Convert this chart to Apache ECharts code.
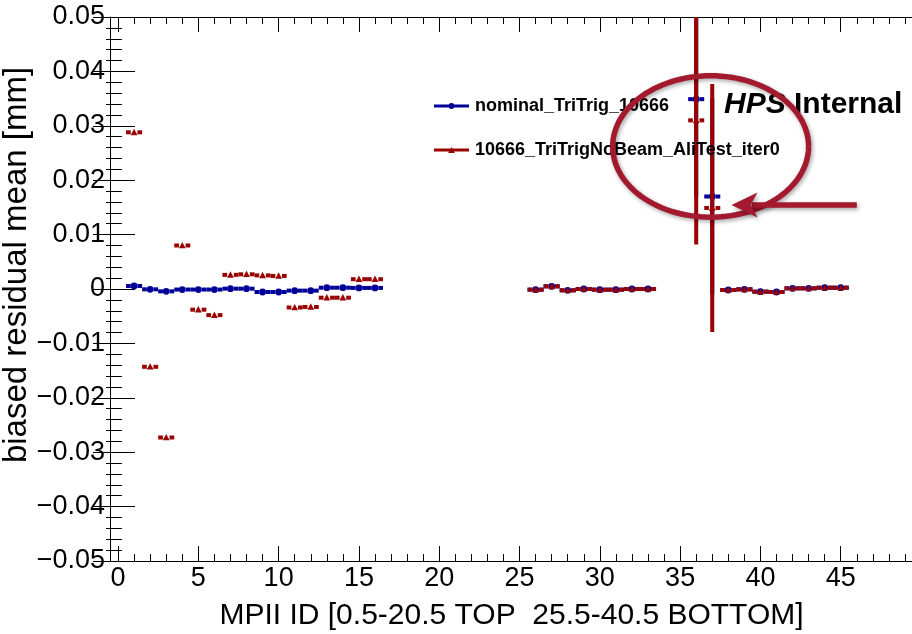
<!DOCTYPE html>
<html><head><meta charset="utf-8">
<script src="https://cdn.jsdelivr.net/npm/echarts@6/dist/echarts.min.js"></script>
<style>html,body{margin:0;padding:0;background:#fff}#c{width:912px;height:634px}</style>
</head><body><div id="c"></div>
<script>
// ---------------- data ----------------
const seriesNames = ['nominal_TriTrig_10666', '10666_TriTrigNoBeam_AliTest_iter0'];
const mpiiIds = [1,2,3,4,5,6,7,8,9,10,11,12,13,14,15,16,
                 26,27,28,29,30,31,32,33,
                 36,37,
                 38,39,40,41,42,43,44,45];
const nominalMean = [0.00055,-0.00006,-0.00043,-0.0001,-0.0001,-0.0001,0.00006,0.00006,-0.00055,-0.00055,-0.0003,-0.0003,0.00024,0.00024,0.0002,0.0002,
                     -0.00012,0.00049,-0.00024,0,-0.00012,-0.00012,0,0,
                     0.0349,0.0170,
                     -0.00018,-0.00006,-0.00049,-0.00055,0.00012,0.00012,0.00024,0.00024];
const nominalErr = [0.0003,0.0003,0.0003,0.0003,0.0003,0.0003,0.0003,0.0003,0.0003,0.0003,0.0003,0.0003,0.0003,0.0003,0.0003,0.0003,
                    0.0003,0.0003,0.0003,0.0003,0.0003,0.0003,0.0003,0.0003,
                    0.018,0.018,
                    0.0003,0.0003,0.0003,0.0003,0.0003,0.0003,0.0003,0.0003];
const noBeamMean = [0.0288,-0.0143,-0.0273,0.0080,-0.0038,-0.0048,0.0026,0.0027,0.0025,0.0024,-0.0034,-0.0033,-0.0016,-0.0016,0.0018,0.0018,
                    -0.00012,0.00049,-0.00024,0,-0.00012,-0.00012,0,0,
                    0.0310,0.0149,
                    -0.00018,-0.00006,-0.00049,-0.00055,0.00012,0.00012,0.00024,0.00024];
const noBeamErr = [0.0003,0.0003,0.0003,0.0003,0.0003,0.0003,0.0003,0.0003,0.0003,0.0003,0.0003,0.0003,0.0003,0.0003,0.0003,0.0003,
                   0.0003,0.0003,0.0003,0.0003,0.0003,0.0003,0.0003,0.0003,
                   0.0228,0.0228,
                   0.0003,0.0003,0.0003,0.0003,0.0003,0.0003,0.0003,0.0003];
const xHalfWidth = 0.5;
const xMajorTicks = [0,5,10,15,20,25,30,35,40,45];
const xMinorTicks = Array.from({length:50},(_,i)=>i);
const xTitle = 'MPII ID [0.5-20.5 TOP  25.5-40.5 BOTTOM]';
const yTitle = 'biased residual mean [mm]';

// ---------------- chart ----------------
const FONT = '"Liberation Sans", Helvetica, Arial, sans-serif';
const BLUE = '#000099', RED = '#990000', ANNO = '#a3192d';
const chart = echarts.init(document.getElementById('c'), null, {renderer:'canvas'});

function errRender(color, shape) {
  return function (params, api) {
    const x = api.value(0), y = api.value(1), ey = api.value(2);
    const c = api.coord([x, y]);
    const l = api.coord([x - xHalfWidth, y]);
    const r = api.coord([x + xHalfWidth, y]);
    const t = api.coord([x, y + ey]);
    const b = api.coord([x, y - ey]);
    const g = 3.3;
    const st = {stroke: color, lineWidth: 4, lineCap: 'butt'};
    const ch = [
      {type:'line', shape:{x1:l[0], y1:c[1], x2:c[0]-g, y2:c[1]}, style:st},
      {type:'line', shape:{x1:c[0]+g, y1:c[1], x2:r[0], y2:c[1]}, style:st}
    ];
    if (c[1] - t[1] > g) {
      ch.push({type:'line', shape:{x1:c[0], y1:t[1], x2:c[0], y2:b[1]}, style:st});
    }
    if (shape === 'circle') {
      ch.push({type:'circle', shape:{cx:c[0], cy:c[1], r:3.4}, style:{fill:color}});
    } else {
      ch.push({type:'polygon', shape:{points:[[c[0],c[1]-3.6],[c[0]+3.4,c[1]+2.8],[c[0]-3.4,c[1]+2.8]]}, style:{fill:color}});
    }
    return {type:'group', children: ch};
  };
}

const blueData = mpiiIds.map((x,i)=>[x, nominalMean[i], nominalErr[i]]);
const redData = mpiiIds.map((x,i)=>[x, noBeamMean[i], noBeamErr[i]]);

const lbl = {fontFamily: FONT, fontSize: 27, color: '#000'};
const axLine = {show:true, onZero:false, lineStyle:{color:'#000', width:1}};
function yFmt(v){ if (Math.abs(v) < 1e-9) return '0'; return (v<0?'\u2212':'') + Math.abs(v).toFixed(2); }

const option = {
  animation: false,
  backgroundColor: '#fff',
  grid: {left:110, top:17, width:803, height:544, containLabel:false, outerBoundsMode:'none'},
  legend: {
    orient:'vertical', left:429, top:92, itemWidth:35, itemHeight:8, itemGap:26,
    textStyle:{fontFamily:FONT, fontSize:18, fontWeight:'bold', color:'#000', padding:[0,0,0,1]},
    data:[
      {name:seriesNames[0], icon:'path://M0,2.5L35,2.5L35,5.5L0,5.5Z M14.5,4 a3,3 0 1,1 6,0 a3,3 0 1,1 -6,0Z', itemStyle:{color:BLUE}},
      {name:seriesNames[1], icon:'path://M0,2.5L35,2.5L35,5.5L0,5.5Z M17.5,1L20.8,7L14.2,7Z', itemStyle:{color:RED}}
    ]
  },
  xAxis: [
    {type:'value', min:-0.5, max:49.5, position:'bottom', axisLine:axLine,
     axisTick:{show:true, inside:true, length:15, customValues:xMajorTicks, lineStyle:{color:'#000'}},
     axisLabel:{...lbl, margin:4, customValues:xMajorTicks},
     splitLine:{show:false},
     name:xTitle, nameLocation:'middle', nameGap:40,
     nameTextStyle:{fontFamily:FONT, fontSize:30, color:'#000'}},
    {type:'value', min:-0.5, max:49.5, position:'bottom', axisLine:axLine,
     axisTick:{show:true, inside:true, length:7, customValues:xMinorTicks, lineStyle:{color:'#000'}},
     axisLabel:{show:false}, splitLine:{show:false}},
    {type:'value', min:-0.5, max:49.5, position:'top', axisLine:axLine,
     axisTick:{show:true, inside:true, length:15, customValues:xMajorTicks, lineStyle:{color:'#000'}},
     axisLabel:{show:false}, splitLine:{show:false}},
    {type:'value', min:-0.5, max:49.5, position:'top', axisLine:axLine,
     axisTick:{show:true, inside:true, length:7, customValues:xMinorTicks, lineStyle:{color:'#000'}},
     axisLabel:{show:false}, splitLine:{show:false}}
  ],
  yAxis: [
    {type:'value', min:-0.05, max:0.05, interval:0.01, position:'left', axisLine:axLine,
     axisTick:{show:true, inside:true, length:25, lineStyle:{color:'#000'}},
     minorTick:{show:true, splitNumber:5, length:12, lineStyle:{color:'#000'}},
     axisLabel:{...lbl, margin:5, formatter:yFmt},
     splitLine:{show:false}, minorSplitLine:{show:false}},
    {type:'value', min:-0.05, max:0.05, interval:0.01, position:'right',
     axisLine:{show:false},
     axisTick:{show:true, inside:true, length:25, lineStyle:{color:'#000'}},
     minorTick:{show:true, splitNumber:5, length:12, lineStyle:{color:'#000'}},
     axisLabel:{show:false}, splitLine:{show:false}, minorSplitLine:{show:false}}
  ],
  series: [
    {name:seriesNames[0], type:'custom', xAxisIndex:0, yAxisIndex:0, clip:true,
     renderItem: errRender(BLUE,'circle'), data: blueData, itemStyle:{color:BLUE}, z:2},
    {name:seriesNames[1], type:'custom', xAxisIndex:0, yAxisIndex:0, clip:true,
     renderItem: errRender(RED,'triangle'), data: redData, itemStyle:{color:RED}, z:3}
  ]
};
chart.setOption(option);

// ---------------- annotations (positioned in data space) ----------------
const P = (x,y) => chart.convertToPixel({xAxisIndex:0, yAxisIndex:0}, [x,y]);
const eC = P(36.9, 0.0262), eR = P(36.9 + 6.1, 0.0262 + 0.0130);
const rx = eR[0]-eC[0], ry = eC[1]-eR[1];
const ell = [];
for (let k=0;k<=120;k++){ const a = k/120*2*Math.PI; ell.push([eC[0]+rx*Math.cos(a), eC[1]+ry*Math.sin(a)]); }
const tip = P(38.2, 0.01545), tail = P(46.0, 0.01545);
const shadow = {shadowBlur:4, shadowColor:'rgba(0,0,0,0.35)', shadowOffsetX:1.5, shadowOffsetY:2};
chart.setOption({graphic:[
  {type:'text', x:17, y:265, rotation:Math.PI/2, z:50,
   style:{text:yTitle, fontFamily:FONT, fontSize:33, fill:'#000', align:'center', verticalAlign:'middle'}},
  {type:'text', left:724, top:90, z:50,
   style:{text:'{a|HPS}{b| Internal}', rich:{
     a:{fontFamily:FONT, fontSize:30, fontWeight:'bold', fontStyle:'italic', fill:'#000'},
     b:{fontFamily:FONT, fontSize:30, fontWeight:'bold', fill:'#000'}}}},
  {type:'polyline', z:100, shape:{points:ell}, style:{stroke:ANNO, lineWidth:5.5, fill:null, ...shadow}},
  {type:'line', z:100, shape:{x1:tip[0]+20, y1:tip[1], x2:tail[0], y2:tail[1]}, style:{stroke:ANNO, lineWidth:5.5, ...shadow}},
  {type:'polygon', z:101, shape:{points:[[tip[0],tip[1]],[tip[0]+26,tip[1]-12.5],[tip[0]+19,tip[1]],[tip[0]+26,tip[1]+12.5]]}, style:{fill:ANNO, ...shadow}}
]});
</script></body></html>
